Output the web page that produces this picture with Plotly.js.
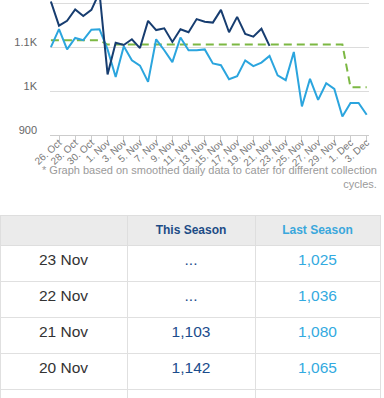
<!DOCTYPE html>
<html>
<head>
<meta charset="utf-8">
<script src="https://cdn.plot.ly/plotly-3.0.1.min.js"></script>
<style>
html, body { margin: 0; padding: 0; overflow: hidden; background: #fff; }
#chart { width: 384px; height: 420px; }
</style>
</head>
<body>
<div id="chart"></div>
<script>
// ---- data ----
const dates = [
  '2013-10-25','2013-10-26','2013-10-27','2013-10-28','2013-10-29','2013-10-30','2013-10-31',
  '2013-11-01','2013-11-02','2013-11-03','2013-11-04','2013-11-05','2013-11-06','2013-11-07',
  '2013-11-08','2013-11-09','2013-11-10','2013-11-11','2013-11-12','2013-11-13','2013-11-14',
  '2013-11-15','2013-11-16','2013-11-17','2013-11-18','2013-11-19','2013-11-20','2013-11-21',
  '2013-11-22','2013-11-23','2013-11-24','2013-11-25','2013-11-26','2013-11-27','2013-11-28',
  '2013-11-29','2013-11-30','2013-12-01','2013-12-02','2013-12-03'
];
const thisSeason = [
  1204, 1149, 1160, 1186, 1171, 1185, 1225,
  1038, 1110, 1105, 1118, 1098, 1160, 1139,
  1143, 1112, 1141, 1134, 1164, 1158, 1156,
  1185, 1134, 1169, 1130, 1124, 1142, 1103
];
const lastSeason = [
  1100, 1141, 1095, 1121, 1116, 1140, 1141,
  1095, 1032, 1102, 1070, 1058, 1021, 1118,
  1093, 1066, 1122, 1093, 1093, 1095, 1063,
  1059, 1027, 1034, 1070, 1057, 1065, 1080,
  1036, 1025, 1089, 965, 1028, 980, 1018,
  1005, 942, 973, 973, 946
];
const target = [
  1116, 1116, 1116, 1116, 1116, 1116, 1116,
  1106, 1106, 1106, 1106, 1106, 1106, 1106,
  1106, 1106, 1106, 1106, 1106, 1106, 1106,
  1106, 1106, 1106, 1106, 1106, 1106, 1106,
  1106, 1106, 1106, 1106, 1106, 1106, 1106,
  1106, 1106, 1009, 1009, 1009
];
const tickDates = [
  '2013-10-26','2013-10-28','2013-10-30','2013-11-01','2013-11-03','2013-11-05','2013-11-07',
  '2013-11-09','2013-11-11','2013-11-13','2013-11-15','2013-11-17','2013-11-19','2013-11-21',
  '2013-11-23','2013-11-25','2013-11-27','2013-11-29','2013-12-01','2013-12-03'
];
const tickLabels = [
  '26. Oct','28. Oct','30. Oct','1. Nov','3. Nov','5. Nov','7. Nov',
  '9. Nov','11. Nov','13. Nov','15. Nov','17. Nov','19. Nov','21. Nov',
  '23. Nov','25. Nov','27. Nov','29. Nov','1. Dec','3. Dec'
];
const yTickVals = [900, 1000, 1100, 1200];
const yTickText = ['900', '1K', '1.1K', '1.2K'];
const tableDates = ['2013-11-23','2013-11-22','2013-11-21','2013-11-20','2013-11-19'];
const tableDateLabels = ['23 Nov','22 Nov','21 Nov','20 Nov','19 Nov'];
const headerLabels = ['', 'This Season', 'Last Season'];
const footnote = '* Graph based on smoothed daily data to cater for different collection<br>cycles.';

// ---- table built from the series ----
const fmt = v => (v === undefined || v === null) ? '...' : v.toLocaleString('en-US');
const colThis = tableDates.map(d => fmt(thisSeason[dates.indexOf(d)]));
const colLast = tableDates.map(d => fmt(lastSeason[dates.indexOf(d)]));

const H = 420, W = 384;
const NAVY = '#173d70', LIGHT = '#2ba5de', GREEN = '#7cb843';
const FONT = 'Liberation Sans, Arial, Helvetica, sans-serif';

const traces = [
  {
    type: 'scatter', mode: 'lines', x: dates, y: target,
    line: { color: GREEN, width: 2, dash: '8px,5px' }, hoverinfo: 'skip'
  },
  {
    type: 'scatter', mode: 'lines', x: dates, y: lastSeason,
    line: { color: LIGHT, width: 2 }, hoverinfo: 'skip'
  },
  {
    type: 'scatter', mode: 'lines', x: dates.slice(0, thisSeason.length), y: thisSeason,
    line: { color: NAVY, width: 2 }, hoverinfo: 'skip'
  },
  {
    type: 'table',
    domain: { x: [0, 380 / W], y: [0, (H - 215) / H] },
    columnwidth: [127, 128, 125],
    header: {
      values: headerLabels.map(s => s ? '<b>' + s + '</b>' : ''),
      fill: { color: '#ebebeb' },
      line: { color: '#dedede', width: 1 },
      align: 'center',
      height: 24,
      font: { family: FONT, size: 12, color: ['#333333', '#1d4b86', '#3aa7dc'] }
    },
    cells: {
      values: [tableDateLabels, colThis, colLast],
      fill: { color: '#ffffff' },
      line: { color: '#e0e0e0', width: 1 },
      align: 'center',
      height: 36,
      font: { family: FONT, size: 15.5, color: ['#333333', '#1b4c8c', '#33aae0'] }
    }
  }
];

const layout = {
  width: W, height: H,
  margin: { l: 0, r: 0, t: 0, b: 0, pad: 0 },
  paper_bgcolor: '#ffffff', plot_bgcolor: '#ffffff',
  showlegend: false,
  font: { family: FONT },
  xaxis: {
    type: 'date',
    domain: [50 / W, 369 / W],
    range: ['2013-10-24 21:20', '2013-12-03 06:50'],
    tickmode: 'array', tickvals: tickDates, ticktext: tickLabels,
    tickangle: -42,
    ticks: 'outside', ticklen: 6, tickcolor: '#cccccc', tickwidth: 1,
    ticklabelstandoff: -9,
    showline: true, linecolor: '#cccccc', linewidth: 1,
    showgrid: false, zeroline: false,
    tickfont: { family: FONT, size: 10, color: '#777777' },
    anchor: 'y', fixedrange: true
  },
  yaxis: {
    domain: [1 - 135 / H, 1],
    range: [900, 1207.5],
    tickmode: 'array', tickvals: yTickVals, ticktext: yTickText,
    showgrid: true, gridcolor: '#dcdcdc', gridwidth: 1,
    zeroline: false, showline: false, ticks: '',
    ticklabelshift: -5, ticklabelstandoff: 12,
    tickfont: { family: FONT, size: 11, color: '#666666' },
    fixedrange: true
  },
  annotations: [{
    xref: 'paper', yref: 'paper',
    x: 379 / W, y: 1 - 162 / H,
    xanchor: 'right', yanchor: 'top', align: 'right',
    showarrow: false,
    text: footnote,
    font: { family: FONT, size: 11, color: '#9a9a9a' }
  }]
};

Plotly.newPlot('chart', traces, layout, { staticPlot: true, displayModeBar: false });
</script>
</body>
</html>
